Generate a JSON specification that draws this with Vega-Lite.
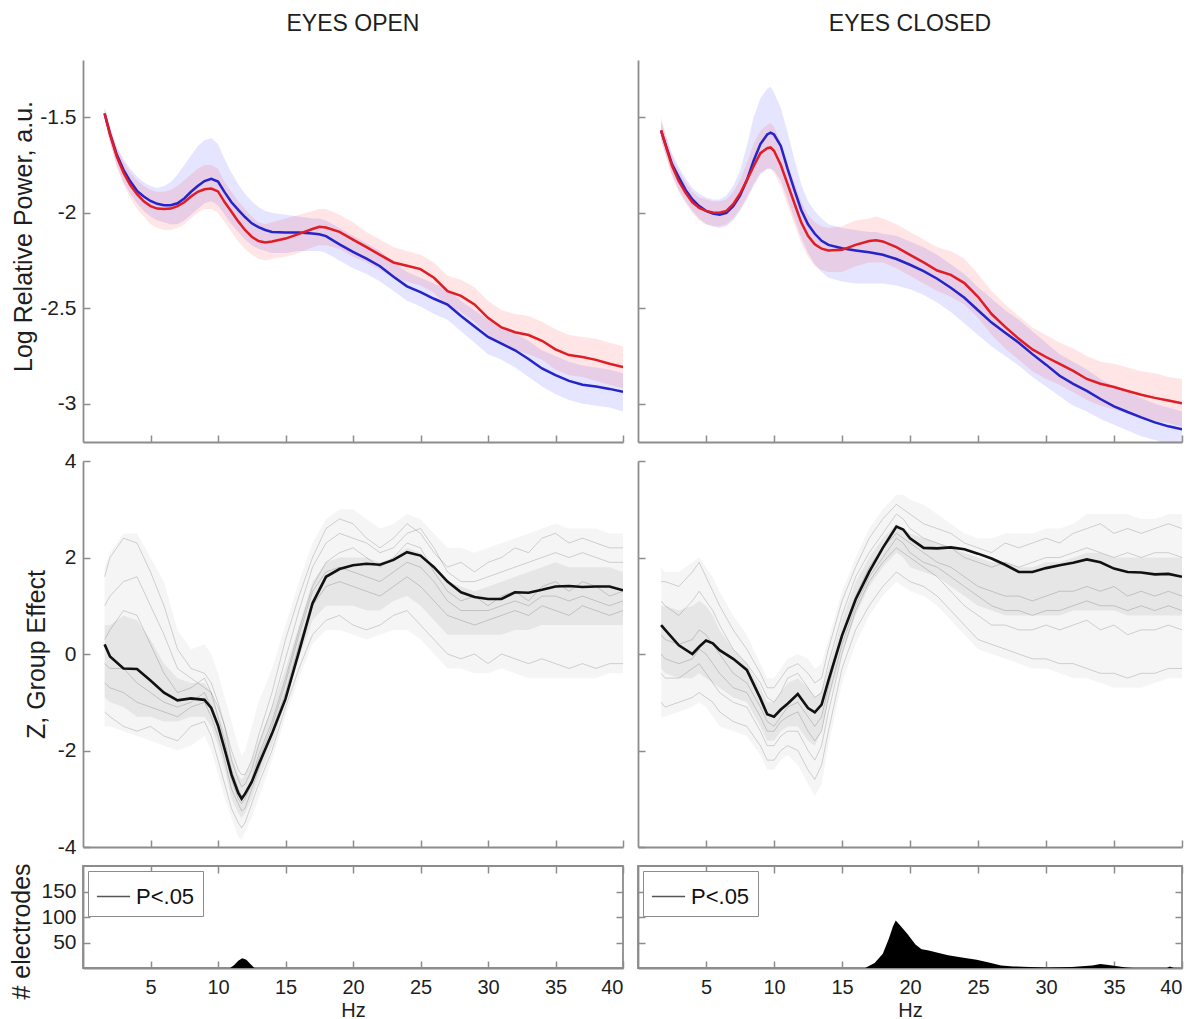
{
"$schema":"https://vega.github.io/schema/vega-lite/v6.json",
"background":"white",
"padding":{"left":8,"top":13,"right":5,"bottom":0},
"columns":2,
"bounds":"flush",
"align":"each",
"spacing":{"row":19,"column":15},
"resolve":{"scale":{"color":"independent"},"legend":{"color":"independent"}},
"config":{
 "font":"Liberation Sans",
 "view":{"stroke":null},
 "axis":{"grid":false,"domainColor":"#8c8c8c","domainWidth":1.8,"tickColor":"#8c8c8c","tickWidth":1.5,"tickSize":-7,"labelFont":"Liberation Sans","labelFontSize":21,"labelColor":"#1e1e1e","labelPadding":14,"titleFont":"Liberation Sans","titleFontSize":25,"titleFontWeight":"normal","titleColor":"#1e1e1e"},
 "title":{"font":"Liberation Sans","fontSize":23,"fontWeight":"normal","color":"#1e1e1e","anchor":"middle","offset":24,"baseline":"alphabetic"}
},
"datasets":{
"topL":[
{"f":1.6,"b":-1.48,"bl":-1.51,"bh":-1.45,"r":-1.48,"rl":-1.51,"rh":-1.45},
{"f":2,"b":-1.585,"bl":-1.63,"bh":-1.55,"r":-1.59,"rl":-1.63,"rh":-1.55},
{"f":2.5,"b":-1.695,"bl":-1.75,"bh":-1.65,"r":-1.705,"rl":-1.76,"rh":-1.66},
{"f":3,"b":-1.775,"bl":-1.84,"bh":-1.72,"r":-1.79,"rl":-1.85,"rh":-1.73},
{"f":3.5,"b":-1.835,"bl":-1.9,"bh":-1.77,"r":-1.855,"rl":-1.92,"rh":-1.79},
{"f":4,"b":-1.885,"bl":-1.95,"bh":-1.81,"r":-1.902,"rl":-1.98,"rh":-1.83},
{"f":4.5,"b":-1.915,"bl":-1.99,"bh":-1.84,"r":-1.94,"rl":-2.02,"rh":-1.86},
{"f":5,"b":-1.938,"bl":-2.02,"bh":-1.86,"r":-1.965,"rl":-2.06,"rh":-1.88},
{"f":5.5,"b":-1.953,"bl":-2.04,"bh":-1.87,"r":-1.978,"rl":-2.08,"rh":-1.89},
{"f":6,"b":-1.96,"bl":-2.05,"bh":-1.86,"r":-1.98,"rl":-2.09,"rh":-1.89},
{"f":6.5,"b":-1.96,"bl":-2.06,"bh":-1.84,"r":-1.978,"rl":-2.09,"rh":-1.88},
{"f":7,"b":-1.95,"bl":-2.06,"bh":-1.8,"r":-1.965,"rl":-2.08,"rh":-1.86},
{"f":7.5,"b":-1.925,"bl":-2.04,"bh":-1.75,"r":-1.945,"rl":-2.06,"rh":-1.83},
{"f":8,"b":-1.89,"bl":-2.01,"bh":-1.7,"r":-1.915,"rl":-2.03,"rh":-1.8},
{"f":8.5,"b":-1.86,"bl":-1.98,"bh":-1.65,"r":-1.89,"rl":-2.0,"rh":-1.77},
{"f":9,"b":-1.834,"bl":-1.95,"bh":-1.62,"r":-1.877,"rl":-1.98,"rh":-1.75},
{"f":9.5,"b":-1.822,"bl":-1.94,"bh":-1.61,"r":-1.873,"rl":-1.98,"rh":-1.75},
{"f":10,"b":-1.836,"bl":-1.96,"bh":-1.64,"r":-1.888,"rl":-2.0,"rh":-1.77},
{"f":10.5,"b":-1.893,"bl":-2.01,"bh":-1.72,"r":-1.945,"rl":-2.05,"rh":-1.84},
{"f":11,"b":-1.945,"bl":-2.06,"bh":-1.79,"r":-1.995,"rl":-2.1,"rh":-1.89},
{"f":11.5,"b":-1.985,"bl":-2.1,"bh":-1.85,"r":-2.045,"rl":-2.15,"rh":-1.94},
{"f":12,"b":-2.022,"bl":-2.14,"bh":-1.9,"r":-2.09,"rl":-2.19,"rh":-1.98},
{"f":12.5,"b":-2.055,"bl":-2.17,"bh":-1.94,"r":-2.125,"rl":-2.22,"rh":-2.02},
{"f":13,"b":-2.075,"bl":-2.19,"bh":-1.97,"r":-2.148,"rl":-2.24,"rh":-2.05},
{"f":13.5,"b":-2.09,"bl":-2.2,"bh":-1.99,"r":-2.155,"rl":-2.25,"rh":-2.06},
{"f":14,"b":-2.1,"bl":-2.21,"bh":-2.0,"r":-2.15,"rl":-2.24,"rh":-2.05},
{"f":15,"b":-2.103,"bl":-2.21,"bh":-2.01,"r":-2.135,"rl":-2.23,"rh":-2.03},
{"f":16,"b":-2.103,"bl":-2.2,"bh":-2.02,"r":-2.11,"rl":-2.21,"rh":-2.01},
{"f":17,"b":-2.108,"bl":-2.2,"bh":-2.03,"r":-2.085,"rl":-2.18,"rh":-1.99},
{"f":17.5,"b":-2.112,"bl":-2.2,"bh":-2.03,"r":-2.073,"rl":-2.17,"rh":-1.98},
{"f":18,"b":-2.122,"bl":-2.21,"bh":-2.04,"r":-2.077,"rl":-2.17,"rh":-1.98},
{"f":19,"b":-2.165,"bl":-2.25,"bh":-2.08,"r":-2.1,"rl":-2.19,"rh":-2.01},
{"f":20,"b":-2.205,"bl":-2.29,"bh":-2.12,"r":-2.14,"rl":-2.23,"rh":-2.05},
{"f":21,"b":-2.24,"bl":-2.32,"bh":-2.16,"r":-2.18,"rl":-2.26,"rh":-2.1},
{"f":22,"b":-2.28,"bl":-2.36,"bh":-2.2,"r":-2.22,"rl":-2.3,"rh":-2.14},
{"f":23,"b":-2.335,"bl":-2.41,"bh":-2.26,"r":-2.26,"rl":-2.34,"rh":-2.18},
{"f":24,"b":-2.385,"bl":-2.46,"bh":-2.31,"r":-2.277,"rl":-2.36,"rh":-2.2},
{"f":25,"b":-2.415,"bl":-2.49,"bh":-2.34,"r":-2.295,"rl":-2.38,"rh":-2.22},
{"f":26,"b":-2.45,"bl":-2.53,"bh":-2.37,"r":-2.34,"rl":-2.42,"rh":-2.26},
{"f":27,"b":-2.48,"bl":-2.56,"bh":-2.4,"r":-2.41,"rl":-2.49,"rh":-2.33},
{"f":28,"b":-2.54,"bl":-2.62,"bh":-2.46,"r":-2.435,"rl":-2.52,"rh":-2.35},
{"f":29,"b":-2.595,"bl":-2.68,"bh":-2.51,"r":-2.48,"rl":-2.57,"rh":-2.39},
{"f":30,"b":-2.65,"bl":-2.74,"bh":-2.56,"r":-2.55,"rl":-2.64,"rh":-2.46},
{"f":31,"b":-2.685,"bl":-2.77,"bh":-2.6,"r":-2.6,"rl":-2.69,"rh":-2.51},
{"f":32,"b":-2.72,"bl":-2.81,"bh":-2.63,"r":-2.625,"rl":-2.72,"rh":-2.53},
{"f":33,"b":-2.765,"bl":-2.86,"bh":-2.67,"r":-2.64,"rl":-2.74,"rh":-2.54},
{"f":34,"b":-2.815,"bl":-2.91,"bh":-2.72,"r":-2.67,"rl":-2.77,"rh":-2.57},
{"f":35,"b":-2.85,"bl":-2.95,"bh":-2.75,"r":-2.715,"rl":-2.82,"rh":-2.61},
{"f":36,"b":-2.88,"bl":-2.98,"bh":-2.78,"r":-2.745,"rl":-2.85,"rh":-2.64},
{"f":37,"b":-2.9,"bl":-3.0,"bh":-2.8,"r":-2.755,"rl":-2.86,"rh":-2.65},
{"f":38,"b":-2.91,"bl":-3.01,"bh":-2.81,"r":-2.77,"rl":-2.88,"rh":-2.66},
{"f":39,"b":-2.922,"bl":-3.02,"bh":-2.82,"r":-2.79,"rl":-2.9,"rh":-2.68},
{"f":40,"b":-2.937,"bl":-3.04,"bh":-2.84,"r":-2.808,"rl":-2.92,"rh":-2.7}
],
"topR":[
{"f":1.7,"b":-1.572,"bl":-1.62,"bh":-1.52,"r":-1.567,"rl":-1.62,"rh":-1.5},
{"f":2,"b":-1.637,"bl":-1.69,"bh":-1.59,"r":-1.64,"rl":-1.69,"rh":-1.58},
{"f":2.5,"b":-1.745,"bl":-1.8,"bh":-1.69,"r":-1.754,"rl":-1.81,"rh":-1.7},
{"f":3,"b":-1.814,"bl":-1.88,"bh":-1.76,"r":-1.835,"rl":-1.89,"rh":-1.78},
{"f":3.5,"b":-1.88,"bl":-1.94,"bh":-1.82,"r":-1.895,"rl":-1.95,"rh":-1.84},
{"f":4,"b":-1.93,"bl":-1.99,"bh":-1.87,"r":-1.945,"rl":-2.0,"rh":-1.89},
{"f":4.5,"b":-1.965,"bl":-2.03,"bh":-1.9,"r":-1.975,"rl":-2.04,"rh":-1.92},
{"f":5,"b":-1.99,"bl":-2.06,"bh":-1.92,"r":-1.99,"rl":-2.06,"rh":-1.93},
{"f":5.5,"b":-2.004,"bl":-2.07,"bh":-1.93,"r":-1.998,"rl":-2.07,"rh":-1.94},
{"f":6,"b":-2.01,"bl":-2.08,"bh":-1.93,"r":-2.0,"rl":-2.07,"rh":-1.94},
{"f":6.5,"b":-2.0,"bl":-2.07,"bh":-1.91,"r":-1.99,"rl":-2.06,"rh":-1.93},
{"f":7,"b":-1.965,"bl":-2.04,"bh":-1.86,"r":-1.955,"rl":-2.03,"rh":-1.89},
{"f":7.5,"b":-1.91,"bl":-1.99,"bh":-1.78,"r":-1.9,"rl":-1.98,"rh":-1.83},
{"f":8,"b":-1.83,"bl":-1.93,"bh":-1.65,"r":-1.83,"rl":-1.92,"rh":-1.74},
{"f":8.5,"b":-1.727,"bl":-1.86,"bh":-1.5,"r":-1.756,"rl":-1.85,"rh":-1.64},
{"f":9,"b":-1.64,"bl":-1.8,"bh":-1.4,"r":-1.688,"rl":-1.79,"rh":-1.57},
{"f":9.5,"b":-1.59,"bl":-1.77,"bh":-1.35,"r":-1.662,"rl":-1.77,"rh":-1.54},
{"f":9.75,"b":-1.58,"bl":-1.77,"bh":-1.34,"r":-1.658,"rl":-1.77,"rh":-1.53},
{"f":10,"b":-1.59,"bl":-1.78,"bh":-1.37,"r":-1.675,"rl":-1.79,"rh":-1.55},
{"f":10.5,"b":-1.65,"bl":-1.83,"bh":-1.45,"r":-1.75,"rl":-1.86,"rh":-1.63},
{"f":11,"b":-1.77,"bl":-1.93,"bh":-1.58,"r":-1.85,"rl":-1.96,"rh":-1.74},
{"f":11.5,"b":-1.88,"bl":-2.03,"bh":-1.72,"r":-1.95,"rl":-2.06,"rh":-1.84},
{"f":12,"b":-1.985,"bl":-2.13,"bh":-1.85,"r":-2.05,"rl":-2.16,"rh":-1.94},
{"f":12.5,"b":-2.06,"bl":-2.21,"bh":-1.94,"r":-2.12,"rl":-2.23,"rh":-2.01},
{"f":13,"b":-2.11,"bl":-2.27,"bh":-1.99,"r":-2.165,"rl":-2.28,"rh":-2.05},
{"f":13.5,"b":-2.147,"bl":-2.31,"bh":-2.03,"r":-2.188,"rl":-2.3,"rh":-2.07},
{"f":14,"b":-2.168,"bl":-2.34,"bh":-2.06,"r":-2.197,"rl":-2.31,"rh":-2.08},
{"f":15,"b":-2.186,"bl":-2.36,"bh":-2.08,"r":-2.194,"rl":-2.31,"rh":-2.07},
{"f":16,"b":-2.197,"bl":-2.37,"bh":-2.09,"r":-2.168,"rl":-2.28,"rh":-2.04},
{"f":17,"b":-2.207,"bl":-2.37,"bh":-2.1,"r":-2.148,"rl":-2.26,"rh":-2.03},
{"f":17.5,"b":-2.213,"bl":-2.37,"bh":-2.1,"r":-2.144,"rl":-2.26,"rh":-2.02},
{"f":18,"b":-2.22,"bl":-2.37,"bh":-2.11,"r":-2.15,"rl":-2.26,"rh":-2.03},
{"f":19,"b":-2.242,"bl":-2.38,"bh":-2.12,"r":-2.18,"rl":-2.29,"rh":-2.06},
{"f":20,"b":-2.272,"bl":-2.4,"bh":-2.15,"r":-2.22,"rl":-2.33,"rh":-2.1},
{"f":21,"b":-2.305,"bl":-2.43,"bh":-2.18,"r":-2.26,"rl":-2.37,"rh":-2.14},
{"f":22,"b":-2.345,"bl":-2.47,"bh":-2.22,"r":-2.302,"rl":-2.41,"rh":-2.18},
{"f":23,"b":-2.392,"bl":-2.52,"bh":-2.27,"r":-2.325,"rl":-2.44,"rh":-2.2},
{"f":24,"b":-2.445,"bl":-2.58,"bh":-2.32,"r":-2.368,"rl":-2.48,"rh":-2.24},
{"f":25,"b":-2.51,"bl":-2.64,"bh":-2.39,"r":-2.44,"rl":-2.55,"rh":-2.32},
{"f":26,"b":-2.575,"bl":-2.7,"bh":-2.45,"r":-2.53,"rl":-2.64,"rh":-2.41},
{"f":27,"b":-2.628,"bl":-2.75,"bh":-2.51,"r":-2.597,"rl":-2.71,"rh":-2.48},
{"f":28,"b":-2.68,"bl":-2.8,"bh":-2.56,"r":-2.66,"rl":-2.77,"rh":-2.54},
{"f":29,"b":-2.74,"bl":-2.86,"bh":-2.62,"r":-2.715,"rl":-2.83,"rh":-2.6},
{"f":30,"b":-2.795,"bl":-2.91,"bh":-2.68,"r":-2.755,"rl":-2.87,"rh":-2.64},
{"f":31,"b":-2.853,"bl":-2.96,"bh":-2.74,"r":-2.791,"rl":-2.9,"rh":-2.68},
{"f":32,"b":-2.896,"bl":-3.01,"bh":-2.78,"r":-2.828,"rl":-2.94,"rh":-2.71},
{"f":33,"b":-2.932,"bl":-3.04,"bh":-2.82,"r":-2.87,"rl":-2.98,"rh":-2.75},
{"f":34,"b":-2.975,"bl":-3.08,"bh":-2.87,"r":-2.895,"rl":-3.01,"rh":-2.78},
{"f":35,"b":-3.013,"bl":-3.11,"bh":-2.91,"r":-2.912,"rl":-3.03,"rh":-2.79},
{"f":36,"b":-3.043,"bl":-3.14,"bh":-2.94,"r":-2.933,"rl":-3.05,"rh":-2.81},
{"f":37,"b":-3.071,"bl":-3.17,"bh":-2.97,"r":-2.953,"rl":-3.07,"rh":-2.83},
{"f":38,"b":-3.097,"bl":-3.19,"bh":-3.0,"r":-2.969,"rl":-3.09,"rh":-2.84},
{"f":39,"b":-3.118,"bl":-3.21,"bh":-3.02,"r":-2.983,"rl":-3.1,"rh":-2.86},
{"f":40,"b":-3.134,"bl":-3.22,"bh":-3.04,"r":-2.997,"rl":-3.12,"rh":-2.87}
],
"midL":[
{"f":1.6,"m":0.2,"u":1.8,"l":-1.5,"cu":0.6,"cl":-0.9,"g1":1.6,"g2":-1.2,"g3":0.3,"g4":-0.6,"g5":1.0,"g6":-0.2},
{"f":2,"m":-0.05,"u":2.1,"l":-1.5,"cu":0.6,"cl":-1.0,"g1":2.0,"g2":-1.3,"g3":0.5,"g4":-0.7,"g5":1.2,"g6":-0.3},
{"f":3,"m":-0.3,"u":2.5,"l":-1.6,"cu":0.8,"cl":-1.1,"g1":2.4,"g2":-1.5,"g3":0.9,"g4":-0.8,"g5":1.5,"g6":-0.3},
{"f":4,"m":-0.31,"u":2.5,"l":-1.7,"cu":0.7,"cl":-1.3,"g1":2.3,"g2":-1.6,"g3":0.8,"g4":-1.0,"g5":1.6,"g6":-0.6},
{"f":5,"m":-0.55,"u":2.0,"l":-1.8,"cu":0.3,"cl":-1.3,"g1":1.7,"g2":-1.5,"g3":0.2,"g4":-1.1,"g5":1.0,"g6":-0.8},
{"f":6,"m":-0.8,"u":1.5,"l":-1.9,"cu":-0.2,"cl":-1.4,"g1":1.0,"g2":-1.7,"g3":-0.4,"g4":-1.2,"g5":0.4,"g6":-1.0},
{"f":7,"m":-0.96,"u":0.5,"l":-2.0,"cu":-0.5,"cl":-1.4,"g1":0.1,"g2":-1.8,"g3":-0.8,"g4":-1.3,"g5":-0.3,"g6":-1.1},
{"f":8,"m":-0.92,"u":0.1,"l":-1.9,"cu":-0.6,"cl":-1.3,"g1":-0.3,"g2":-1.5,"g3":-0.7,"g4":-1.1,"g5":-0.5,"g6":-1.0},
{"f":9,"m":-0.95,"u":0.2,"l":-1.7,"cu":-0.6,"cl":-1.3,"g1":-0.4,"g2":-1.4,"g3":-0.5,"g4":-1.0,"g5":-0.7,"g6":-0.8},
{"f":9.5,"m":-1.12,"u":0.0,"l":-2.0,"cu":-0.8,"cl":-1.5,"g1":-0.6,"g2":-1.7,"g3":-0.8,"g4":-1.3,"g5":-0.8,"g6":-1.1},
{"f":10,"m":-1.48,"u":-0.4,"l":-2.5,"cu":-1.2,"cl":-1.9,"g1":-1.0,"g2":-2.2,"g3":-1.3,"g4":-1.7,"g5":-1.1,"g6":-1.5},
{"f":10.5,"m":-1.98,"u":-0.9,"l":-3.0,"cu":-1.6,"cl":-2.4,"g1":-1.5,"g2":-2.7,"g3":-1.8,"g4":-2.2,"g5":-1.5,"g6":-2.0},
{"f":11,"m":-2.5,"u":-1.4,"l":-3.4,"cu":-2.1,"cl":-3.0,"g1":-2.0,"g2":-3.2,"g3":-2.4,"g4":-2.8,"g5":-2.2,"g6":-2.6},
{"f":11.5,"m":-2.88,"u":-1.9,"l":-3.8,"cu":-2.5,"cl":-3.3,"g1":-2.4,"g2":-3.5,"g3":-2.8,"g4":-3.1,"g5":-2.6,"g6":-3.0},
{"f":11.75,"m":-3.0,"u":-2.1,"l":-3.85,"cu":-2.6,"cl":-3.4,"g1":-2.5,"g2":-3.6,"g3":-2.95,"g4":-3.25,"g5":-2.75,"g6":-3.1},
{"f":12,"m":-2.9,"u":-2.0,"l":-3.7,"cu":-2.5,"cl":-3.3,"g1":-2.5,"g2":-3.5,"g3":-2.9,"g4":-3.2,"g5":-2.7,"g6":-3.0},
{"f":12.5,"m":-2.65,"u":-1.5,"l":-3.4,"cu":-2.2,"cl":-3.0,"g1":-2.2,"g2":-3.1,"g3":-2.6,"g4":-2.8,"g5":-2.4,"g6":-2.7},
{"f":13,"m":-2.3,"u":-1.0,"l":-3.0,"cu":-1.8,"cl":-2.6,"g1":-1.7,"g2":-2.7,"g3":-2.1,"g4":-2.4,"g5":-1.9,"g6":-2.2},
{"f":14,"m":-1.65,"u":-0.3,"l":-2.2,"cu":-1.1,"cl":-1.9,"g1":-0.8,"g2":-2.0,"g3":-1.4,"g4":-1.6,"g5":-1.1,"g6":-1.5},
{"f":15,"m":-0.93,"u":0.6,"l":-1.3,"cu":-0.3,"cl":-1.0,"g1":0.3,"g2":-1.1,"g3":-0.5,"g4":-0.8,"g5":-0.1,"g6":-0.6},
{"f":16,"m":0.05,"u":1.5,"l":-0.5,"cu":0.6,"cl":-0.1,"g1":1.2,"g2":-0.3,"g3":0.5,"g4":0.2,"g5":0.9,"g6":0.4},
{"f":17,"m":1.05,"u":2.3,"l":0.2,"cu":1.5,"cl":0.7,"g1":2.0,"g2":0.4,"g3":1.4,"g4":1.0,"g5":1.8,"g6":1.3},
{"f":18,"m":1.6,"u":2.8,"l":0.5,"cu":1.9,"cl":1.0,"g1":2.6,"g2":0.7,"g3":1.9,"g4":1.4,"g5":2.3,"g6":1.7},
{"f":19,"m":1.76,"u":3.0,"l":0.5,"cu":2.0,"cl":1.0,"g1":2.8,"g2":0.8,"g3":2.1,"g4":1.5,"g5":2.5,"g6":1.8},
{"f":20,"m":1.84,"u":3.0,"l":0.4,"cu":2.0,"cl":1.0,"g1":2.7,"g2":0.6,"g3":2.2,"g4":1.4,"g5":2.4,"g6":1.7},
{"f":21,"m":1.87,"u":2.8,"l":0.3,"cu":2.0,"cl":0.9,"g1":2.4,"g2":0.5,"g3":2.0,"g4":1.3,"g5":2.3,"g6":1.6},
{"f":22,"m":1.85,"u":2.6,"l":0.4,"cu":1.9,"cl":0.9,"g1":2.2,"g2":0.6,"g3":1.8,"g4":1.2,"g5":2.1,"g6":1.5},
{"f":23,"m":1.95,"u":2.7,"l":0.5,"cu":2.0,"cl":1.1,"g1":2.4,"g2":0.8,"g3":2.0,"g4":1.4,"g5":2.2,"g6":1.7},
{"f":24,"m":2.11,"u":2.9,"l":0.5,"cu":2.2,"cl":1.2,"g1":2.7,"g2":0.9,"g3":2.3,"g4":1.6,"g5":2.5,"g6":1.9},
{"f":25,"m":2.04,"u":2.8,"l":0.3,"cu":2.1,"cl":1.0,"g1":2.5,"g2":0.6,"g3":2.2,"g4":1.4,"g5":2.6,"g6":1.8},
{"f":26,"m":1.8,"u":2.5,"l":0.0,"cu":1.8,"cl":0.7,"g1":2.1,"g2":0.3,"g3":1.7,"g4":1.1,"g5":2.2,"g6":1.5},
{"f":27,"m":1.5,"u":2.2,"l":-0.3,"cu":1.5,"cl":0.4,"g1":1.8,"g2":0.0,"g3":1.3,"g4":0.8,"g5":1.7,"g6":1.1},
{"f":28,"m":1.28,"u":2.2,"l":-0.3,"cu":1.4,"cl":0.4,"g1":1.9,"g2":-0.1,"g3":1.1,"g4":0.7,"g5":1.5,"g6":0.9},
{"f":29,"m":1.18,"u":2.1,"l":-0.4,"cu":1.3,"cl":0.4,"g1":1.7,"g2":0.0,"g3":1.2,"g4":0.6,"g5":1.5,"g6":0.9},
{"f":30,"m":1.14,"u":2.2,"l":-0.4,"cu":1.4,"cl":0.4,"g1":1.9,"g2":-0.2,"g3":1.0,"g4":0.7,"g5":1.6,"g6":0.9},
{"f":31,"m":1.14,"u":2.3,"l":-0.3,"cu":1.5,"cl":0.4,"g1":2.0,"g2":0.0,"g3":1.2,"g4":0.8,"g5":1.7,"g6":1.0},
{"f":32,"m":1.28,"u":2.4,"l":-0.4,"cu":1.6,"cl":0.5,"g1":2.2,"g2":-0.1,"g3":1.3,"g4":0.9,"g5":1.8,"g6":1.1},
{"f":33,"m":1.27,"u":2.5,"l":-0.5,"cu":1.7,"cl":0.5,"g1":2.1,"g2":-0.2,"g3":1.1,"g4":0.8,"g5":1.9,"g6":1.0},
{"f":34,"m":1.33,"u":2.6,"l":-0.5,"cu":1.8,"cl":0.6,"g1":2.4,"g2":-0.1,"g3":1.4,"g4":1.0,"g5":2.0,"g6":1.2},
{"f":35,"m":1.4,"u":2.7,"l":-0.5,"cu":1.9,"cl":0.6,"g1":2.5,"g2":-0.2,"g3":1.5,"g4":0.9,"g5":2.1,"g6":1.2},
{"f":36,"m":1.41,"u":2.6,"l":-0.5,"cu":1.8,"cl":0.6,"g1":2.3,"g2":-0.3,"g3":1.3,"g4":0.8,"g5":2.0,"g6":1.1},
{"f":37,"m":1.39,"u":2.6,"l":-0.5,"cu":1.8,"cl":0.6,"g1":2.4,"g2":-0.2,"g3":1.5,"g4":1.0,"g5":2.1,"g6":1.2},
{"f":38,"m":1.4,"u":2.6,"l":-0.5,"cu":1.8,"cl":0.6,"g1":2.3,"g2":-0.3,"g3":1.4,"g4":0.9,"g5":2.0,"g6":1.1},
{"f":39,"m":1.4,"u":2.5,"l":-0.4,"cu":1.8,"cl":0.6,"g1":2.2,"g2":-0.2,"g3":1.2,"g4":0.8,"g5":1.9,"g6":1.0},
{"f":40,"m":1.32,"u":2.5,"l":-0.4,"cu":1.7,"cl":0.6,"g1":2.2,"g2":-0.2,"g3":1.3,"g4":0.9,"g5":1.9,"g6":1.1}
],
"midR":[
{"f":1.7,"m":0.6,"u":1.8,"l":-1.3,"cu":1.0,"cl":-0.3,"g1":1.5,"g2":-1.0,"g3":0.4,"g4":-0.4,"g5":1.1,"g6":0.0},
{"f":2,"m":0.5,"u":1.7,"l":-1.3,"cu":1.0,"cl":-0.4,"g1":1.5,"g2":-1.1,"g3":0.3,"g4":-0.5,"g5":1.0,"g6":-0.1},
{"f":3,"m":0.18,"u":1.7,"l":-1.2,"cu":0.9,"cl":-0.5,"g1":1.4,"g2":-1.0,"g3":0.2,"g4":-0.5,"g5":0.8,"g6":-0.2},
{"f":4,"m":0.0,"u":1.9,"l":-1.1,"cu":1.0,"cl":-0.5,"g1":1.7,"g2":-0.9,"g3":0.3,"g4":-0.3,"g5":1.1,"g6":-0.1},
{"f":4.5,"m":0.15,"u":2.0,"l":-1.0,"cu":1.1,"cl":-0.4,"g1":1.9,"g2":-0.8,"g3":0.5,"g4":-0.2,"g5":1.3,"g6":0.1},
{"f":5,"m":0.28,"u":1.8,"l":-1.1,"cu":1.0,"cl":-0.5,"g1":1.6,"g2":-0.9,"g3":0.4,"g4":-0.4,"g5":1.1,"g6":0.0},
{"f":5.5,"m":0.22,"u":1.6,"l":-1.3,"cu":0.8,"cl":-0.6,"g1":1.3,"g2":-1.0,"g3":0.2,"g4":-0.6,"g5":0.9,"g6":-0.2},
{"f":6,"m":0.08,"u":1.3,"l":-1.5,"cu":0.5,"cl":-0.7,"g1":1.0,"g2":-1.2,"g3":0.0,"g4":-0.8,"g5":0.6,"g6":-0.4},
{"f":7,"m":-0.1,"u":0.8,"l":-1.6,"cu":0.1,"cl":-0.9,"g1":0.5,"g2":-1.4,"g3":-0.4,"g4":-1.0,"g5":0.1,"g6":-0.7},
{"f":8,"m":-0.33,"u":0.4,"l":-1.7,"cu":-0.2,"cl":-1.0,"g1":0.1,"g2":-1.5,"g3":-0.6,"g4":-1.1,"g5":-0.2,"g6":-0.8},
{"f":9,"m":-0.92,"u":-0.2,"l":-2.1,"cu":-0.7,"cl":-1.5,"g1":-0.4,"g2":-1.9,"g3":-1.1,"g4":-1.6,"g5":-0.6,"g6":-1.3},
{"f":9.5,"m":-1.25,"u":-0.5,"l":-2.4,"cu":-1.0,"cl":-1.8,"g1":-0.7,"g2":-2.2,"g3":-1.4,"g4":-1.9,"g5":-0.9,"g6":-1.6},
{"f":10,"m":-1.3,"u":-0.5,"l":-2.4,"cu":-1.0,"cl":-1.8,"g1":-0.7,"g2":-2.2,"g3":-1.5,"g4":-1.9,"g5":-1.0,"g6":-1.6},
{"f":10.5,"m":-1.15,"u":-0.3,"l":-2.2,"cu":-0.8,"cl":-1.6,"g1":-0.5,"g2":-2.0,"g3":-1.3,"g4":-1.7,"g5":-0.8,"g6":-1.4},
{"f":11,"m":-1.03,"u":-0.1,"l":-2.1,"cu":-0.6,"cl":-1.5,"g1":-0.3,"g2":-1.9,"g3":-1.1,"g4":-1.6,"g5":-0.5,"g6":-1.3},
{"f":11.75,"m":-0.83,"u":0.0,"l":-2.3,"cu":-0.5,"cl":-1.5,"g1":-0.2,"g2":-2.0,"g3":-1.0,"g4":-1.6,"g5":-0.4,"g6":-1.2},
{"f":12.5,"m":-1.12,"u":-0.1,"l":-2.7,"cu":-0.7,"cl":-1.8,"g1":-0.4,"g2":-2.4,"g3":-1.3,"g4":-2.0,"g5":-0.7,"g6":-1.6},
{"f":13,"m":-1.21,"u":-0.3,"l":-2.95,"cu":-0.9,"cl":-1.9,"g1":-0.6,"g2":-2.6,"g3":-1.5,"g4":-2.2,"g5":-0.9,"g6":-1.8},
{"f":13.5,"m":-1.05,"u":-0.2,"l":-2.7,"cu":-0.8,"cl":-1.6,"g1":-0.5,"g2":-2.3,"g3":-1.3,"g4":-1.9,"g5":-0.8,"g6":-1.6},
{"f":14,"m":-0.55,"u":0.3,"l":-1.9,"cu":-0.3,"cl":-1.0,"g1":0.1,"g2":-1.6,"g3":-0.7,"g4":-1.2,"g5":-0.2,"g6":-0.9},
{"f":15,"m":0.38,"u":1.3,"l":-0.6,"cu":0.7,"cl":0.0,"g1":1.1,"g2":-0.3,"g3":0.4,"g4":0.0,"g5":0.8,"g6":0.2},
{"f":16,"m":1.13,"u":2.0,"l":0.2,"cu":1.5,"cl":0.8,"g1":1.8,"g2":0.5,"g3":1.2,"g4":0.9,"g5":1.6,"g6":1.0},
{"f":17,"m":1.7,"u":2.6,"l":0.8,"cu":2.0,"cl":1.4,"g1":2.4,"g2":1.0,"g3":1.8,"g4":1.5,"g5":2.1,"g6":1.6},
{"f":18,"m":2.2,"u":3.0,"l":1.2,"cu":2.4,"cl":1.8,"g1":2.8,"g2":1.4,"g3":2.2,"g4":1.9,"g5":2.5,"g6":2.0},
{"f":19,"m":2.64,"u":3.3,"l":1.5,"cu":2.7,"cl":2.1,"g1":3.1,"g2":1.7,"g3":2.5,"g4":2.2,"g5":2.9,"g6":2.4},
{"f":19.5,"m":2.58,"u":3.3,"l":1.4,"cu":2.6,"cl":2.0,"g1":3.0,"g2":1.6,"g3":2.4,"g4":2.1,"g5":2.8,"g6":2.3},
{"f":20,"m":2.4,"u":3.2,"l":1.3,"cu":2.5,"cl":1.8,"g1":2.9,"g2":1.5,"g3":2.3,"g4":2.0,"g5":2.6,"g6":2.1},
{"f":21,"m":2.2,"u":3.1,"l":1.2,"cu":2.4,"cl":1.7,"g1":2.7,"g2":1.4,"g3":2.1,"g4":1.8,"g5":2.4,"g6":1.9},
{"f":22,"m":2.19,"u":2.9,"l":1.0,"cu":2.3,"cl":1.6,"g1":2.6,"g2":1.2,"g3":1.9,"g4":1.6,"g5":2.3,"g6":1.8},
{"f":23,"m":2.21,"u":2.7,"l":0.7,"cu":2.2,"cl":1.4,"g1":2.5,"g2":0.9,"g3":1.8,"g4":1.3,"g5":2.2,"g6":1.6},
{"f":24,"m":2.17,"u":2.5,"l":0.4,"cu":2.1,"cl":1.2,"g1":2.3,"g2":0.6,"g3":1.6,"g4":1.0,"g5":2.0,"g6":1.4},
{"f":25,"m":2.08,"u":2.4,"l":0.1,"cu":2.0,"cl":1.0,"g1":2.2,"g2":0.3,"g3":1.4,"g4":0.8,"g5":1.9,"g6":1.2},
{"f":26,"m":1.98,"u":2.4,"l":0.0,"cu":1.9,"cl":0.9,"g1":2.1,"g2":0.2,"g3":1.3,"g4":0.6,"g5":1.8,"g6":1.0},
{"f":27,"m":1.85,"u":2.5,"l":-0.1,"cu":1.9,"cl":0.8,"g1":2.3,"g2":0.1,"g3":1.2,"g4":0.6,"g5":1.9,"g6":0.9},
{"f":28,"m":1.7,"u":2.5,"l":-0.2,"cu":1.8,"cl":0.8,"g1":2.2,"g2":0.0,"g3":1.2,"g4":0.5,"g5":1.8,"g6":0.9},
{"f":29,"m":1.7,"u":2.5,"l":-0.3,"cu":1.8,"cl":0.8,"g1":2.3,"g2":-0.1,"g3":1.1,"g4":0.5,"g5":1.9,"g6":0.8},
{"f":30,"m":1.78,"u":2.6,"l":-0.3,"cu":1.9,"cl":0.8,"g1":2.4,"g2":-0.1,"g3":1.2,"g4":0.6,"g5":2.0,"g6":0.9},
{"f":31,"m":1.84,"u":2.6,"l":-0.4,"cu":1.9,"cl":0.8,"g1":2.3,"g2":-0.2,"g3":1.3,"g4":0.5,"g5":2.0,"g6":0.9},
{"f":32,"m":1.89,"u":2.7,"l":-0.5,"cu":2.0,"cl":0.9,"g1":2.5,"g2":-0.2,"g3":1.3,"g4":0.6,"g5":2.1,"g6":1.0},
{"f":33,"m":1.96,"u":2.9,"l":-0.5,"cu":2.1,"cl":0.9,"g1":2.6,"g2":-0.3,"g3":1.4,"g4":0.7,"g5":2.2,"g6":1.1},
{"f":34,"m":1.9,"u":2.9,"l":-0.6,"cu":2.1,"cl":0.9,"g1":2.7,"g2":-0.4,"g3":1.3,"g4":0.5,"g5":2.1,"g6":1.0},
{"f":35,"m":1.77,"u":2.9,"l":-0.7,"cu":2.0,"cl":0.9,"g1":2.5,"g2":-0.4,"g3":1.4,"g4":0.6,"g5":2.0,"g6":1.0},
{"f":36,"m":1.7,"u":2.9,"l":-0.7,"cu":2.0,"cl":0.8,"g1":2.6,"g2":-0.5,"g3":1.2,"g4":0.4,"g5":2.1,"g6":0.9},
{"f":37,"m":1.69,"u":2.8,"l":-0.7,"cu":2.0,"cl":0.8,"g1":2.5,"g2":-0.4,"g3":1.3,"g4":0.5,"g5":2.0,"g6":1.0},
{"f":38,"m":1.65,"u":2.8,"l":-0.6,"cu":2.0,"cl":0.8,"g1":2.6,"g2":-0.4,"g3":1.2,"g4":0.5,"g5":2.1,"g6":0.9},
{"f":39,"m":1.66,"u":2.9,"l":-0.5,"cu":2.0,"cl":0.8,"g1":2.7,"g2":-0.3,"g3":1.3,"g4":0.6,"g5":2.1,"g6":1.0},
{"f":40,"m":1.6,"u":2.9,"l":-0.5,"cu":2.0,"cl":0.8,"g1":2.6,"g2":-0.3,"g3":1.2,"g4":0.5,"g5":2.0,"g6":0.9}
],
"botL":[
{"f":10.9,"n":0},{"f":11.2,"n":6},{"f":11.5,"n":14},{"f":11.8,"n":19},{"f":12.1,"n":16},{"f":12.4,"n":8},{"f":12.7,"n":0}
],
"botR":[
{"f":16.7,"n":0},{"f":17.4,"n":10},{"f":18.0,"n":28},{"f":18.45,"n":58},{"f":18.75,"n":82},{"f":18.95,"n":93},{"f":19.2,"n":86},{"f":19.8,"n":67},{"f":20.4,"n":46},{"f":20.85,"n":37},{"f":21.3,"n":35},{"f":21.9,"n":31},{"f":22.8,"n":25},{"f":23.7,"n":21},{"f":24.9,"n":16},{"f":25.8,"n":11},{"f":26.7,"n":5},{"f":27.6,"n":3},{"f":28.8,"n":2},{"f":30.05,"n":1},{"f":31.9,"n":2},{"f":33.4,"n":5},{"f":34.0,"n":8},{"f":34.6,"n":6},{"f":35.9,"n":1},{"f":36.4,"n":0},{"f":38.9,"n":0},{"f":39.1,"n":3},{"f":39.4,"n":0}
]
},
"concat":[
{
 "width":540,"height":382,
 "title":{"text":"EYES OPEN"},
 "data":{"name":"topL"},
 "encoding":{"x":{"field":"f","type":"quantitative","scale":{"domain":[0,40]},"axis":{"values":[5,10,15,20,25,30,35,40],"labels":false,"title":null}}},
 "layer":[
  {"mark":{"type":"area","color":"#0000ff","opacity":0.1,"clip":true},"encoding":{"y":{"field":"bl","type":"quantitative","title":"Log Relative Power, a.u.","scale":{"domain":[-3.2,-1.2]},"axis":{"values":[-3,-2.5,-2,-1.5],"labelExpr":"toString(datum.value)","titleX":-60,"titleY":176,"titleBaseline":"middle"}},"y2":{"field":"bh"}}},
  {"mark":{"type":"area","color":"#ff0000","opacity":0.1,"clip":true},"encoding":{"y":{"field":"rl","type":"quantitative","title":"Log Relative Power, a.u."},"y2":{"field":"rh"}}},
  {"mark":{"type":"line","color":"#2424c8","strokeWidth":2.5,"clip":true},"encoding":{"y":{"field":"b","type":"quantitative","title":"Log Relative Power, a.u."}}},
  {"mark":{"type":"line","color":"#e01c24","strokeWidth":2.5,"clip":true},"encoding":{"y":{"field":"r","type":"quantitative","title":"Log Relative Power, a.u."}}}
 ]
},
{
 "width":544,"height":382,
 "title":{"text":"EYES CLOSED"},
 "data":{"name":"topR"},
 "encoding":{"x":{"field":"f","type":"quantitative","scale":{"domain":[0,40]},"axis":{"values":[5,10,15,20,25,30,35,40],"labels":false,"title":null}}},
 "layer":[
  {"mark":{"type":"area","color":"#0000ff","opacity":0.1,"clip":true},"encoding":{"y":{"field":"bl","type":"quantitative","title":null,"scale":{"domain":[-3.2,-1.2]},"axis":{"values":[-3,-2.5,-2,-1.5],"labels":false}},"y2":{"field":"bh"}}},
  {"mark":{"type":"area","color":"#ff0000","opacity":0.1,"clip":true},"encoding":{"y":{"field":"rl","type":"quantitative","title":null},"y2":{"field":"rh"}}},
  {"mark":{"type":"line","color":"#2424c8","strokeWidth":2.5,"clip":true},"encoding":{"y":{"field":"b","type":"quantitative","title":null}}},
  {"mark":{"type":"line","color":"#e01c24","strokeWidth":2.5,"clip":true},"encoding":{"y":{"field":"r","type":"quantitative","title":null}}}
 ]
},
{
 "width":540,"height":386,
 "data":{"name":"midL"},
 "encoding":{"x":{"field":"f","type":"quantitative","scale":{"domain":[0,40]},"axis":{"values":[5,10,15,20,25,30,35,40],"labels":false,"title":null}}},
 "layer":[
  {"mark":{"type":"area","color":"#000000","opacity":0.04,"clip":true},"encoding":{"y":{"field":"l","type":"quantitative","title":"Z, Group Effect","scale":{"domain":[-4,4]},"axis":{"values":[-4,-2,0,2,4],"labelExpr":"toString(datum.value)","titleX":-47,"titleBaseline":"middle"}},"y2":{"field":"u"}}},
  {"mark":{"type":"area","color":"#000000","opacity":0.06,"clip":true},"encoding":{"y":{"field":"cl","type":"quantitative","title":"Z, Group Effect"},"y2":{"field":"cu"}}},
  {"transform":[{"fold":["g1","g2","g3","g4","g5","g6"],"as":["k","v"]}],"mark":{"type":"line","color":"#000000","opacity":0.16,"strokeWidth":1,"clip":true},"encoding":{"y":{"field":"v","type":"quantitative","title":"Z, Group Effect"},"detail":{"field":"k"}}},
  {"data":{"values":[{}]},"mark":{"type":"rule","color":"#8a8a8a","strokeWidth":2,"strokeDash":[9,6]},"encoding":{"x":{"datum":1.6},"x2":{"datum":40},"y":{"datum":0}}},
  {"mark":{"type":"line","color":"#111111","strokeWidth":2.6,"clip":true},"encoding":{"y":{"field":"m","type":"quantitative","title":"Z, Group Effect"}}}
 ]
},
{
 "width":544,"height":386,
 "data":{"name":"midR"},
 "encoding":{"x":{"field":"f","type":"quantitative","scale":{"domain":[0,40]},"axis":{"values":[5,10,15,20,25,30,35,40],"labels":false,"title":null}}},
 "layer":[
  {"mark":{"type":"area","color":"#000000","opacity":0.04,"clip":true},"encoding":{"y":{"field":"l","type":"quantitative","title":null,"scale":{"domain":[-4,4]},"axis":{"values":[-4,-2,0,2,4],"labels":false}},"y2":{"field":"u"}}},
  {"mark":{"type":"area","color":"#000000","opacity":0.06,"clip":true},"encoding":{"y":{"field":"cl","type":"quantitative","title":null},"y2":{"field":"cu"}}},
  {"transform":[{"fold":["g1","g2","g3","g4","g5","g6"],"as":["k","v"]}],"mark":{"type":"line","color":"#000000","opacity":0.16,"strokeWidth":1,"clip":true},"encoding":{"y":{"field":"v","type":"quantitative","title":null},"detail":{"field":"k"}}},
  {"data":{"values":[{}]},"mark":{"type":"rule","color":"#8a8a8a","strokeWidth":2,"strokeDash":[9,6]},"encoding":{"x":{"datum":1.7},"x2":{"datum":40},"y":{"datum":0}}},
  {"mark":{"type":"line","color":"#111111","strokeWidth":2.6,"clip":true},"encoding":{"y":{"field":"m","type":"quantitative","title":null}}}
 ]
},
{
 "width":540,"height":102,
 "view":{"stroke":"#8c8c8c","strokeWidth":1.8},
 "data":{"name":"botL"},
 "resolve":{"axis":{"x":"independent","y":"independent"}},
 "layer":[
  {"mark":{"type":"area","clip":true},"encoding":{
    "x":{"field":"f","type":"quantitative","scale":{"domain":[0,40]},"axis":{"values":[5,10,15,20,25,30,35,40],"labelFontSize":20,"labelPadding":16,"title":"Hz","titleFontSize":20,"titleY":48,"titleBaseline":"alphabetic"}},
    "y":{"field":"n","type":"quantitative","scale":{"domain":[0,185]},"axis":{"values":[50,100,150],"title":"# electrodes","titleX":-62,"titleY":65,"titleBaseline":"middle"}},
    "color":{"datum":"P<.05","type":"nominal","scale":{"range":["#000000"]},"legend":{"title":null,"orient":"top-left","offset":5,"strokeColor":"#8c8c8c","fillColor":"white","padding":8,"symbolType":"stroke","symbolSize":1100,"symbolStrokeWidth":1.5,"labelFontSize":22,"labelFont":"Liberation Sans","labelColor":"#111111","labelOffset":5,"encode":{"symbols":{"update":{"stroke":{"value":"#555555"},"strokeWidth":{"value":1.5}}}}}}}},
  {"mark":{"type":"point","opacity":0},"encoding":{
    "x":{"field":"f","type":"quantitative","axis":{"orient":"top","labels":false,"domain":false,"values":[5,10,15,20,25,30,35,40],"title":null}},
    "y":{"field":"n","type":"quantitative","axis":{"orient":"right","labels":false,"domain":false,"values":[50,100,150],"title":null}}}}
 ]
},
{
 "width":544,"height":102,
 "view":{"stroke":"#8c8c8c","strokeWidth":1.8},
 "data":{"name":"botR"},
 "resolve":{"axis":{"x":"independent","y":"independent"}},
 "layer":[
  {"mark":{"type":"area","clip":true},"encoding":{
    "x":{"field":"f","type":"quantitative","scale":{"domain":[0,40]},"axis":{"values":[5,10,15,20,25,30,35,40],"labelFontSize":20,"labelPadding":16,"title":"Hz","titleFontSize":20,"titleY":48,"titleBaseline":"alphabetic"}},
    "y":{"field":"n","type":"quantitative","scale":{"domain":[0,185]},"axis":{"values":[50,100,150],"labels":false,"title":null}},
    "color":{"datum":"P<.05","type":"nominal","scale":{"range":["#000000"]},"legend":{"title":null,"orient":"top-left","offset":5,"strokeColor":"#8c8c8c","fillColor":"white","padding":8,"symbolType":"stroke","symbolSize":1100,"symbolStrokeWidth":1.5,"labelFontSize":22,"labelFont":"Liberation Sans","labelColor":"#111111","labelOffset":5,"encode":{"symbols":{"update":{"stroke":{"value":"#555555"},"strokeWidth":{"value":1.5}}}}}}}},
  {"mark":{"type":"point","opacity":0},"encoding":{
    "x":{"field":"f","type":"quantitative","axis":{"orient":"top","labels":false,"domain":false,"values":[5,10,15,20,25,30,35,40],"title":null}},
    "y":{"field":"n","type":"quantitative","axis":{"orient":"right","labels":false,"domain":false,"values":[50,100,150],"title":null}}}}
 ]
}
]
}
